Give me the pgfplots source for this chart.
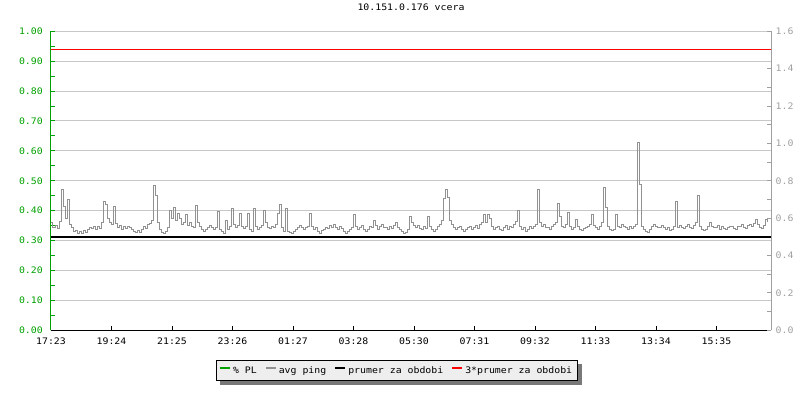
\documentclass[border=0pt]{standalone}
\usepackage{fontspec}
\setmainfont{DejaVu Sans Mono}[FakeStretch=1.1]
\usepackage{pgfplots}
\pgfplotsset{compat=1.18}
\pgfdeclarelayer{shadowlayer}
\pgfsetlayers{shadowlayer,main}
\definecolor{plgreen}{RGB}{0,160,0}
\definecolor{pinggray}{RGB}{145,145,145}
\definecolor{gridgray}{RGB}{200,200,200}
\definecolor{axgray}{RGB}{160,160,160}
\definecolor{legbg}{RGB}{238,238,238}
\definecolor{shadowgray}{RGB}{120,120,120}
\begin{document}
\begin{tikzpicture}[font=\fontsize{9}{11}\selectfont]
\useasboundingbox (-51bp,-69.7bp) rectangle (749bp,330.3bp);
\begin{axis}[at={(0,0)}, anchor=south west, scale only axis, width=720bp, height=299bp,
  xmin=0, xmax=1440, ymin=0, ymax=1,
  axis x line*=bottom, axis y line*=left,
  x axis line style={black, line width=1bp},
  y axis line style={plgreen, line width=1bp},
  xtick={0,121,242,363,484,605,726,847,968,1089,1210,1331},
  xticklabels={17:23,19:24,21:25,23:26,01:27,03:28,05:30,07:31,09:32,11:33,13:34,15:35},
  ytick={0,0.1,0.2,0.3,0.4,0.5,0.6,0.7,0.8,0.9,1},
  minor y tick num=1,
  tick align=inside,
  major tick length=4bp, minor tick length=4bp,
  xtick style={black, line width=1bp},
  ytick style={plgreen, line width=1bp},
  ymajorgrids, grid style={gridgray, line width=1bp},
  yticklabel style={text=plgreen, anchor=east, xshift=-8bp, inner sep=0pt,
    /pgf/number format/.cd, fixed, fixed zerofill, precision=2},
  xticklabel style={anchor=base, yshift=-14bp, inner sep=0pt},
  /pgf/number format/assume math mode=true,
  title={10.151.0.176 vcera},
  title style={at={(0.5,1)}, anchor=base, yshift=15bp, inner sep=0pt},
]
\end{axis}
\begin{axis}[at={(0,0)}, anchor=south west, scale only axis, width=720bp, height=299bp,
  xmin=0, xmax=1440, ymin=0, ymax=1.6,
  axis x line=none, axis y line*=right,
  y axis line style={axgray, line width=1bp},
  ytick={0,0.2,0.4,0.6,0.8,1.0,1.2,1.4,1.6},
  minor y tick num=1,
  tick align=inside,
  major tick length=4bp, minor tick length=4bp,
  ytick style={axgray, line width=1bp},
  yticklabel style={text=axgray, anchor=west, xshift=4.5bp, inner sep=0pt,
    /pgf/number format/.cd, fixed, fixed zerofill, precision=1},
  /pgf/number format/assume math mode=true,
  legend columns=4,
  legend image code/.code={\draw[#1, line width=2bp] (0bp,2.5bp) -- (10bp,2.5bp);},
  legend style={name=leg, at={(0.48,-0.1345)}, anchor=center, draw=black, line width=1bp,
    fill=legbg, font=\fontsize{9}{11}\selectfont, inner xsep=3bp, inner ysep=3.5bp,
    /tikz/every even column/.append style={column sep=6bp}},
  legend cell align=left,
]
\addlegendimage{plgreen}
\addlegendentry{\% PL}
\addplot[pinggray, const plot, line width=1bp] coordinates {
(0,0.575)(4,0.552)(8,0.56)(12,0.545)(16,0.583)(20,0.754)(24,0.66)(28,0.60)(32,0.70)(36,0.565)
(40,0.548)(44,0.528)(48,0.535)(52,0.518)(56,0.53)(60,0.52)(64,0.535)(68,0.525)(72,0.54)(76,0.55)
(80,0.545)(84,0.555)(88,0.54)(92,0.558)(96,0.545)(100,0.578)(104,0.69)(108,0.672)(112,0.60)(116,0.575)
(120,0.565)(124,0.664)(128,0.57)(132,0.55)(136,0.56)(140,0.54)(144,0.553)(148,0.545)(152,0.558)(156,0.548)
(160,0.54)(164,0.53)(168,0.522)(172,0.532)(176,0.525)(180,0.54)(184,0.553)(188,0.545)(192,0.565)(196,0.57)
(200,0.59)(204,0.773)(208,0.72)(212,0.575)(216,0.54)(220,0.525)(224,0.518)(228,0.53)(232,0.548)(236,0.64)
(240,0.60)(244,0.656)(248,0.585)(252,0.624)(256,0.60)(260,0.565)(264,0.578)(268,0.618)(272,0.56)(276,0.578)
(280,0.558)(284,0.548)(288,0.667)(292,0.575)(296,0.553)(300,0.54)(304,0.53)(308,0.542)(312,0.55)(316,0.562)
(320,0.55)(324,0.54)(328,0.552)(332,0.637)(336,0.54)(340,0.528)(344,0.52)(348,0.586)(352,0.54)(356,0.555)
(360,0.654)(364,0.568)(368,0.548)(372,0.56)(376,0.624)(380,0.558)(384,0.545)(388,0.555)(392,0.624)(396,0.538)
(400,0.53)(404,0.654)(408,0.553)(412,0.54)(416,0.55)(420,0.562)(424,0.64)(428,0.578)(432,0.55)(436,0.545)
(440,0.555)(444,0.548)(448,0.565)(452,0.624)(456,0.675)(460,0.55)(464,0.53)(468,0.653)(472,0.528)(476,0.522)
(480,0.518)(484,0.53)(488,0.54)(492,0.548)(496,0.56)(500,0.548)(504,0.54)(508,0.552)(512,0.558)(516,0.624)
(520,0.553)(524,0.54)(528,0.55)(532,0.53)(536,0.52)(540,0.532)(544,0.54)(548,0.55)(552,0.545)(556,0.56)
(560,0.548)(564,0.565)(568,0.55)(572,0.54)(576,0.558)(580,0.545)(584,0.53)(588,0.52)(592,0.528)(596,0.54)
(600,0.55)(604,0.622)(608,0.553)(612,0.54)(616,0.552)(620,0.56)(624,0.54)(628,0.528)(632,0.542)(636,0.555)
(640,0.548)(644,0.586)(648,0.56)(652,0.54)(656,0.555)(660,0.568)(664,0.552)(668,0.548)(672,0.538)(676,0.555)
(680,0.545)(684,0.56)(688,0.576)(692,0.55)(696,0.54)(700,0.528)(704,0.518)(708,0.525)(712,0.54)(716,0.61)
(720,0.578)(724,0.562)(728,0.55)(732,0.56)(736,0.545)(740,0.54)(744,0.555)(748,0.545)(752,0.61)(756,0.558)
(760,0.54)(764,0.528)(768,0.542)(772,0.553)(776,0.568)(780,0.59)(784,0.704)(788,0.754)(792,0.712)(796,0.59)
(800,0.565)(804,0.55)(808,0.54)(812,0.552)(816,0.558)(820,0.54)(824,0.528)(828,0.54)(832,0.55)(836,0.555)
(840,0.54)(844,0.552)(848,0.56)(852,0.545)(856,0.565)(860,0.578)(864,0.622)(868,0.575)(872,0.622)(876,0.60)
(880,0.558)(884,0.54)(888,0.55)(892,0.555)(896,0.54)(900,0.532)(904,0.548)(908,0.56)(912,0.54)(916,0.553)
(920,0.548)(924,0.568)(928,0.583)(932,0.64)(936,0.558)(940,0.54)(944,0.552)(948,0.528)(952,0.54)(956,0.555)
(960,0.545)(964,0.558)(968,0.568)(972,0.754)(976,0.578)(980,0.555)(984,0.565)(988,0.55)(992,0.548)(996,0.54)
(1000,0.553)(1004,0.568)(1008,0.578)(1012,0.678)(1016,0.608)(1020,0.558)(1024,0.548)(1028,0.568)(1032,0.632)(1036,0.553)
(1040,0.54)(1044,0.55)(1048,0.592)(1052,0.553)(1056,0.54)(1060,0.533)(1064,0.545)(1068,0.548)(1072,0.555)(1076,0.568)
(1080,0.621)(1084,0.56)(1088,0.548)(1092,0.54)(1096,0.553)(1100,0.578)(1104,0.765)(1108,0.656)(1112,0.553)(1116,0.54)
(1120,0.533)(1124,0.542)(1128,0.621)(1132,0.558)(1136,0.55)(1140,0.565)(1144,0.555)(1148,0.548)(1152,0.54)(1156,0.553)
(1160,0.545)(1164,0.558)(1168,0.565)(1172,1.005)(1176,0.781)(1180,0.558)(1184,0.54)(1188,0.528)(1192,0.522)(1196,0.54)
(1200,0.553)(1204,0.568)(1208,0.555)(1212,0.548)(1216,0.55)(1220,0.56)(1224,0.548)(1228,0.54)(1232,0.552)(1236,0.533)
(1240,0.54)(1244,0.555)(1248,0.69)(1252,0.548)(1256,0.56)(1260,0.55)(1264,0.545)(1268,0.558)(1272,0.565)(1276,0.552)
(1280,0.545)(1284,0.56)(1288,0.578)(1292,0.722)(1296,0.558)(1300,0.54)(1304,0.533)(1308,0.542)(1312,0.553)(1316,0.576)
(1320,0.558)(1324,0.548)(1328,0.552)(1332,0.56)(1336,0.54)(1340,0.553)(1344,0.545)(1348,0.538)(1352,0.548)(1356,0.558)
(1360,0.553)(1364,0.545)(1368,0.54)(1372,0.555)(1376,0.558)(1380,0.565)(1384,0.55)(1388,0.545)(1392,0.56)(1396,0.568)
(1400,0.555)(1404,0.573)(1408,0.592)(1412,0.565)(1416,0.55)(1420,0.545)(1424,0.56)(1428,0.595)(1432,0.578)
};
\addlegendentry{avg ping}
\addplot[black, line width=2bp] coordinates {(0,0.5) (1440,0.5)};
\addlegendentry{prumer za obdobi}
\addplot[red, line width=1bp] coordinates {(0,1.5) (1440,1.5)};
\addlegendentry{3*prumer za obdobi}
\end{axis}
\begin{pgfonlayer}{shadowlayer}
\fill[shadowgray] ([xshift=4bp,yshift=-4bp]leg.south west) rectangle ([xshift=4bp,yshift=-4bp]leg.north east);
\end{pgfonlayer}
\end{tikzpicture}
\end{document}
